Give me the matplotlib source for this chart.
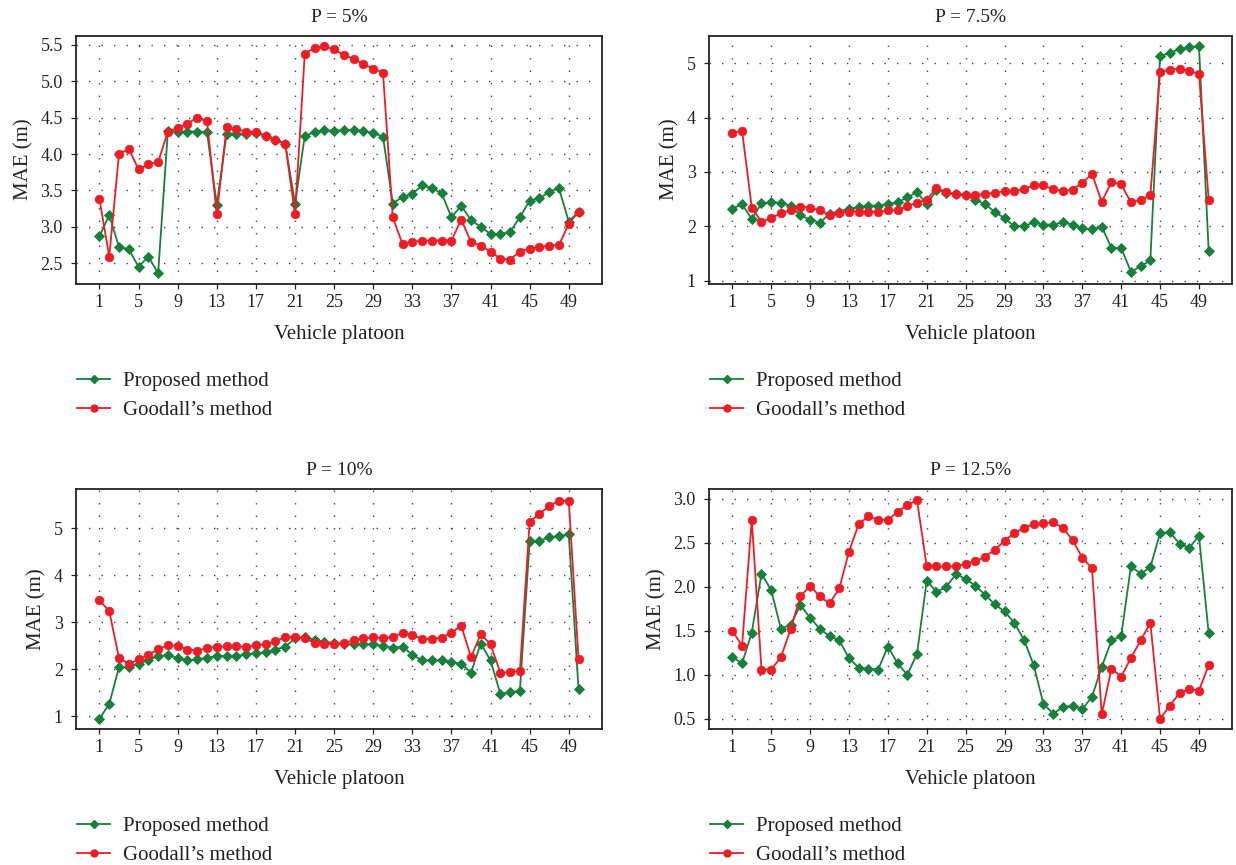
import matplotlib
matplotlib.use("Agg")
import matplotlib.pyplot as plt
from matplotlib.lines import Line2D

plt.rcParams["font.family"] = ["Liberation Serif", "DejaVu Serif"]

platoon = list(range(1, 51))
xtick_labels = list(range(1, 50, 4))

titles = ["P = 5%", "P = 7.5%", "P = 10%", "P = 12.5%"]

p5_proposed = [2.87, 3.16, 2.72, 2.69, 2.45, 2.59, 2.36, 4.32, 4.31, 4.31,
               4.31, 4.30, 3.30, 4.28, 4.28, 4.28, 4.29, 4.25, 4.19, 4.14,
               3.32, 4.25, 4.30, 4.33, 4.32, 4.33, 4.33, 4.32, 4.29, 4.24,
               3.32, 3.41, 3.45, 3.57, 3.53, 3.46, 3.13, 3.29, 3.09, 3.00,
               2.90, 2.90, 2.93, 3.13, 3.36, 3.39, 3.48, 3.53, 3.07, 3.21]
p5_goodall = [3.38, 2.59, 4.00, 4.07, 3.79, 3.86, 3.89, 4.31, 4.36, 4.42,
              4.50, 4.45, 3.17, 4.37, 4.34, 4.31, 4.30, 4.25, 4.19, 4.14,
              3.17, 5.38, 5.46, 5.48, 5.44, 5.36, 5.31, 5.24, 5.17, 5.12,
              3.13, 2.76, 2.79, 2.81, 2.81, 2.81, 2.81, 3.10, 2.79, 2.74,
              2.66, 2.56, 2.55, 2.66, 2.70, 2.72, 2.74, 2.75, 3.04, 3.21]

p75_proposed = [2.32, 2.41, 2.13, 2.42, 2.44, 2.43, 2.37, 2.20, 2.12, 2.06,
                2.23, 2.27, 2.32, 2.35, 2.38, 2.38, 2.41, 2.44, 2.53, 2.63,
                2.40, 2.66, 2.62, 2.59, 2.58, 2.48, 2.41, 2.26, 2.15, 2.00,
                2.00, 2.07, 2.03, 2.03, 2.07, 2.03, 1.96, 1.94, 1.99, 1.60,
                1.60, 1.16, 1.26, 1.37, 5.13, 5.19, 5.26, 5.29, 5.32, 1.54]
p75_goodall = [3.71, 3.76, 2.34, 2.08, 2.15, 2.24, 2.29, 2.36, 2.34, 2.29,
               2.21, 2.24, 2.27, 2.27, 2.26, 2.26, 2.29, 2.29, 2.37, 2.43,
               2.49, 2.70, 2.63, 2.59, 2.57, 2.57, 2.59, 2.62, 2.64, 2.65,
               2.68, 2.75, 2.75, 2.68, 2.65, 2.67, 2.80, 2.96, 2.45, 2.81,
               2.77, 2.44, 2.49, 2.57, 4.83, 4.88, 4.90, 4.86, 4.81, 2.49]

p10_proposed = [0.95, 1.26, 2.05, 2.04, 2.12, 2.20, 2.28, 2.30, 2.24, 2.19,
                2.21, 2.25, 2.28, 2.28, 2.28, 2.32, 2.34, 2.36, 2.42, 2.48,
                2.66, 2.69, 2.63, 2.58, 2.56, 2.55, 2.53, 2.53, 2.53, 2.50,
                2.46, 2.48, 2.31, 2.19, 2.19, 2.19, 2.15, 2.12, 1.93, 2.55,
                2.19, 1.48, 1.51, 1.54, 4.73, 4.74, 4.81, 4.84, 4.88, 1.58]
p10_goodall = [3.47, 3.24, 2.24, 2.12, 2.21, 2.31, 2.43, 2.51, 2.50, 2.42,
               2.40, 2.45, 2.48, 2.49, 2.49, 2.48, 2.51, 2.53, 2.60, 2.69,
               2.69, 2.66, 2.57, 2.53, 2.54, 2.56, 2.62, 2.66, 2.68, 2.66,
               2.69, 2.78, 2.73, 2.65, 2.65, 2.67, 2.78, 2.93, 2.26, 2.75,
               2.53, 1.93, 1.94, 1.96, 5.14, 5.31, 5.48, 5.59, 5.59, 2.22]

p125_proposed = [1.20, 1.13, 1.48, 2.15, 1.96, 1.52, 1.57, 1.79, 1.65, 1.52,
                 1.44, 1.39, 1.19, 1.08, 1.07, 1.06, 1.32, 1.13, 1.00, 1.24,
                 2.07, 1.94, 2.00, 2.14, 2.09, 2.01, 1.91, 1.80, 1.72, 1.59,
                 1.40, 1.11, 0.67, 0.56, 0.63, 0.65, 0.61, 0.75, 1.09, 1.39,
                 1.44, 2.23, 2.15, 2.22, 2.61, 2.62, 2.49, 2.44, 2.58, 1.47]
p125_goodall = [1.50, 1.33, 2.76, 1.06, 1.06, 1.20, 1.52, 1.89, 2.01, 1.89,
                1.81, 1.98, 2.40, 2.71, 2.80, 2.76, 2.76, 2.85, 2.93, 2.98,
                2.23, 2.23, 2.23, 2.23, 2.26, 2.29, 2.34, 2.42, 2.52, 2.61,
                2.67, 2.71, 2.72, 2.73, 2.67, 2.53, 2.33, 2.21, 0.55, 1.07,
                0.98, 1.19, 1.39, 1.59, 0.50, 0.65, 0.79, 0.84, 0.82, 1.11]

proposed = [p5_proposed, p75_proposed, p10_proposed, p125_proposed]
goodall = [p5_goodall, p75_goodall, p10_goodall, p125_goodall]

yticks = [[2.5, 3.0, 3.5, 4.0, 4.5, 5.0, 5.5],
          [1, 2, 3, 4, 5],
          [1, 2, 3, 4, 5],
          [0.5, 1.0, 1.5, 2.0, 2.5, 3.0]]
ytick_fmt = ["{:.1f}", "{:.0f}", "{:.0f}", "{:.1f}"]
ylims = [(2.22, 5.63), (0.945, 5.51), (0.74, 5.84), (0.39, 3.11)]

GREEN = "#16803c"
RED = "#ee1c25"

W, H = 1236, 865
fig = plt.figure(figsize=(W / 100, H / 100), dpi=100)

# axes boxes in pixels: left, top, right, bottom
boxes = [(76, 35.5, 602, 283.5),
         (709, 35.5, 1232, 283.5),
         (76, 489, 602, 728.5),
         (709, 489, 1232, 728.5)]

for k in range(4):
    l, t, r, b = boxes[k]
    ax = fig.add_axes([l / W, 1 - b / H, (r - l) / W, (b - t) / H])
    ax.plot(platoon, proposed[k], color=GREEN, lw=1.3, marker="D", ms=5.2,
            mec=GREEN, mew=0.6, zorder=3)
    ax.plot(platoon, goodall[k], color=RED, lw=1.3, marker="o", ms=6.2,
            mec=RED, mew=0.5, zorder=4)
    ax.set_xlim(-1.4, 52.4)
    ax.set_ylim(*ylims[k])
    ax.set_xticks(xtick_labels)
    ax.set_xticklabels([str(v) for v in xtick_labels])
    ax.set_yticks(yticks[k])
    ax.set_yticklabels([ytick_fmt[k].format(v) for v in yticks[k]])
    ax.tick_params(axis="both", direction="out", length=3.5, width=0.9,
                   labelsize=13, colors="#222222")
    ax.tick_params(axis="y", pad=6)
    ax.tick_params(axis="x", pad=4)
    ax.grid(True, color="#444444", linestyle=(0, (1, 8)), linewidth=1.0)
    for s in ax.spines.values():
        s.set_linewidth(1.3)
        s.set_color("#222222")
    ax.set_title(titles[k], fontsize=14, pad=10, color="#222222")
    ax.set_xlabel("Vehicle platoon", fontsize=15, labelpad=10, color="#222222")
    ax.set_ylabel("MAE (m)", fontsize=15, labelpad=5, color="#222222")

    handles = [Line2D([], [], color=GREEN, lw=1.3, marker="D", ms=4.5, mec=GREEN),
               Line2D([], [], color=RED, lw=1.3, marker="o", ms=5, mec=RED)]
    top_px = b + 88
    ax.legend(handles, ["Proposed method", "Goodall\u2019s method"],
              loc="upper left",
              bbox_to_anchor=((l + 1) / W, 1 - top_px / H),
              bbox_transform=fig.transFigure,
              frameon=False, fontsize=15, borderpad=0, borderaxespad=0,
              handlelength=1.6, handletextpad=0.6, labelspacing=0.45,
              numpoints=1, labelcolor="#222222")

fig.savefig("out.png", dpi=100)
